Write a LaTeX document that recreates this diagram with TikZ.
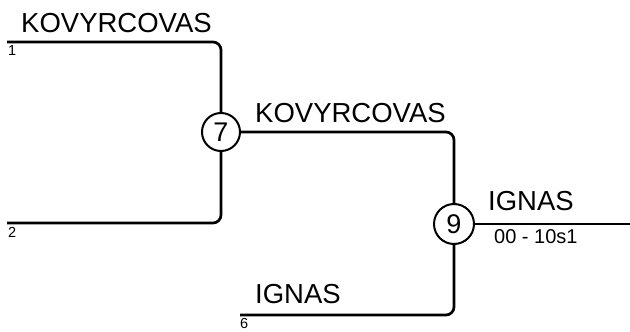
\documentclass[tikz,border=0pt]{standalone}
\usepackage{fontspec}
\setmainfont{Liberation Sans}
\begin{document}
\begin{tikzpicture}[x=1pt,y=-1pt,
  bline/.style={line width=2.7pt,rounded corners=8pt},
  match/.style={circle,draw,line width=2pt,minimum size=38pt,inner sep=0pt,font=\fontsize{27}{27}\selectfont},
  player/.style={anchor=base west,inner sep=0pt,font=\fontsize{27.5}{28}\selectfont},
  seed/.style={anchor=base west,inner sep=0pt,font=\fontsize{14.5}{15}\selectfont},
  score/.style={anchor=base west,inner sep=0pt,font=\fontsize{20}{20}\selectfont}]
\useasboundingbox (0,0) rectangle (630,332);
\coordinate (l1) at (7,42);
\coordinate (l2) at (7,223);
\coordinate (l6) at (240,315);
\coordinate (out) at (630,224);
\node[match] (c7) at (221,132) {7};
\node[match,minimum size=40pt] (c9) at (454,224) {9};
\draw[bline] (l1) -| (c7);
\draw[bline] (l2) -| (c7);
\draw[bline] (c7) -| (c9);
\draw[bline] (l6) -| (c9);
\draw[bline] (c9) -- (out);
\node[player] (t1) at (21,32) {KOVYRCOVAS};
\node[player] (t7) at (255,122) {KOVYRCOVAS};
\node[player] (t9) at (488,210) {IGNAS};
\node[player] (t6) at (255,303) {IGNAS};
\node[score] (s9) at (494,243) {00 - 10s1};
\node[seed] (n1) at (8,55) {1};
\node[seed] (n2) at (8,237) {2};
\node[seed] (n6) at (240,328) {6};
\end{tikzpicture}
\end{document}
